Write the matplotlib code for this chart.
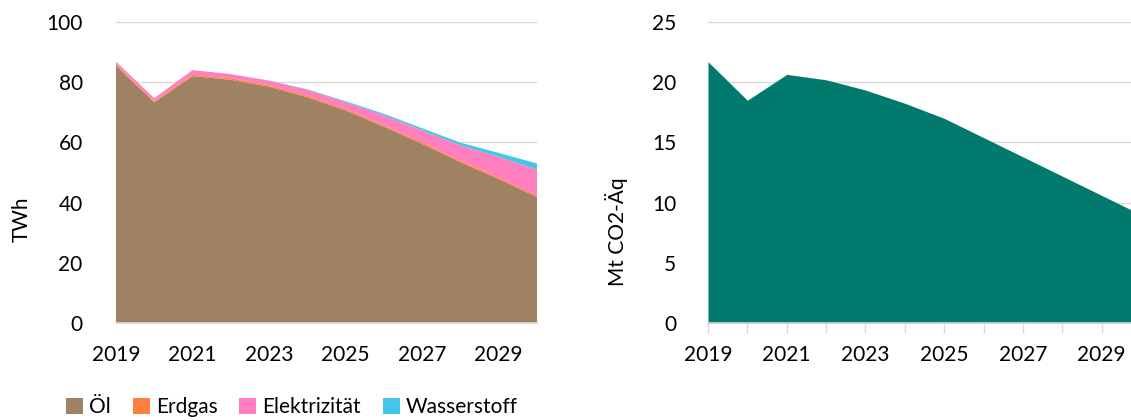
import numpy as np
import matplotlib.pyplot as plt
from matplotlib.patches import Patch

plt.rcParams['font.family'] = ['Lato', 'DejaVu Sans']

# data
years = np.arange(2019, 2031)
oel = [85.5, 73.3, 82.0, 80.8, 78.5, 75.0, 70.6, 65.2, 59.5, 53.4, 47.8, 41.8]
erdgas = [0.4, 0.4, 0.5, 0.5, 0.5, 0.5, 0.5, 0.5, 0.5, 0.5, 0.5, 0.5]
elektrizitaet = [0.9, 1.0, 1.5, 1.4, 1.5, 2.0, 2.3, 3.3, 4.0, 5.1, 6.9, 8.7]
wasserstoff = [0.0, 0.0, 0.0, 0.0, 0.05, 0.15, 0.3, 0.5, 0.7, 0.9, 1.3, 2.0]
co2 = [21.7, 18.5, 20.65, 20.2, 19.35, 18.25, 17.0, 15.4, 13.8, 12.2, 10.6, 9.0]

labels = ["Öl", "Erdgas", "Elektrizität", "Wasserstoff"]
colors = ["#9E8263", "#FF7F3F", "#FF7FBF", "#43C6E8"]
teal = "#02796D"
grid_col = "#D9D9D9"
fs = 15

W, H = 1131, 420
fig = plt.figure(figsize=(W / 100, H / 100), dpi=100)

def px_axes(x0, x1, ytop, ybot):
    return fig.add_axes([x0 / W, (H - ybot) / H, (x1 - x0) / W, (ybot - ytop) / H])

#left: energy stack
ax1 = px_axes(116, 537, 22, 323)
ax1.stackplot(years, oel, erdgas, elektrizitaet, wasserstoff, colors=colors, linewidth=0)
ax1.set_xlim(2019, 2030)
ax1.set_ylim(0, 100)
ax1.set_yticks(range(0, 101, 20))
ax1.set_xticks(range(2019, 2030, 2))
ax1.tick_params(axis="both", length=0, labelsize=fs)
ax1.tick_params(axis="y", pad=24)
ax1.tick_params(axis="x", pad=16)
ax1.grid(axis="y", color=grid_col, linewidth=1)
ax1.set_axisbelow(True)
for s in ["top", "right", "left"]:
    ax1.spines[s].set_visible(False)
ax1.spines["bottom"].set_color(grid_col)
ax1.spines["bottom"].set_linewidth(1.2)
fig.text(22 / W, 1 - 219 / H, "TWh", rotation=90, ha="center", va="center", fontsize=fs)

#right: emissions
ax2 = px_axes(708, 1141, 22, 323)
ax2.fill_between(years, 0, co2, color=teal, linewidth=0)
ax2.set_xlim(2019, 2030)
ax2.set_ylim(0, 25)
ax2.set_yticks(range(0, 26, 5))
ax2.set_xticks(range(2019, 2030, 2))
ax2.set_xticks(range(2020, 2031, 2), minor=True)
ax2.tick_params(axis="y", length=0, labelsize=fs, pad=23)
ax2.tick_params(axis="x", which="both", length=7, color=grid_col, width=1, labelsize=fs, pad=9)
ax2.grid(axis="y", color=grid_col, linewidth=1)
ax2.set_axisbelow(True)
for s in ["top", "right", "left"]:
    ax2.spines[s].set_visible(False)
ax2.spines["bottom"].set_color(grid_col)
ax2.spines["bottom"].set_linewidth(1.2)
fig.text(617 / W, 1 - 232 / H, "Mt CO2-Äq", rotation=90, ha="center", va="center", fontsize=fs)

handles = [Patch(facecolor=c, edgecolor="none") for c in colors]
fig.legend(handles, labels, loc="center", bbox_to_anchor=(292 / W, 1 - 407 / H), ncol=4,
           frameon=False, fontsize=fs, handlelength=0.8, handleheight=0.8,
           handletextpad=0.3, columnspacing=1.05, borderpad=0)

fig.savefig("out.png", dpi=100)
